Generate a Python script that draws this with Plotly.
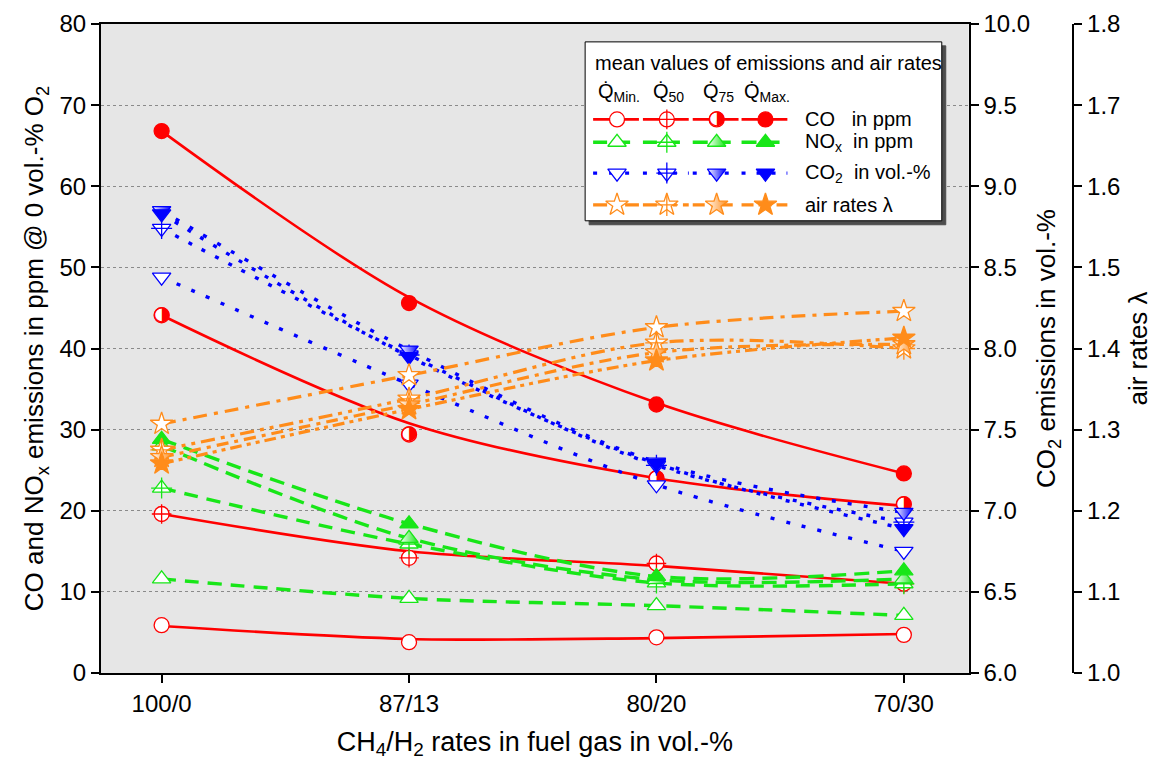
import plotly.graph_objects as go

# ---------------- data ----------------
categories = ["100/0", "87/13", "80/20", "70/30"]
load_labels = ["Min.", "50", "75", "Max."]

# CO in ppm (left axis): measured mean values
co_min = [5.9, 3.8, 4.4, 4.7]
co_50 = [19.6, 14.2, 13.5, 11.0]
co_75 = [44.1, 29.4, 24.0, 20.8]
co_max = [66.8, 45.6, 33.1, 24.6]
# CO trend curves
co_min_fit = [5.8, 4.2, 4.3, 4.8]
co_50_fit = [19.6, 15.0, 13.2, 11.0]
co_75_fit = [44.1, 30.8, 24.0, 20.6]
co_max_fit = [66.8, 46.3, 33.3, 24.6]

# NOx in ppm (left axis)
nox_min = [11.6, 9.2, 8.3, 7.1]
nox_50 = [22.8, 15.9, 11.1, 11.0]
nox_75 = [28.0, 16.6, 11.5, 11.6]
nox_max = [28.8, 18.4, 11.9, 12.6]

# CO2 in vol.-% (first right axis)
co2_min = [8.44, 7.78, 7.16, 6.75]
co2_50 = [8.74, 7.96, 7.28, 6.93]
co2_75 = [8.85, 7.99, 7.30, 6.99]
co2_max = [8.83, 7.95, 7.29, 6.89]

# air rates lambda (second right axis)
lam_min = [1.307, 1.367, 1.426, 1.446]
lam_50 = [1.275, 1.338, 1.407, 1.400]
lam_75 = [1.266, 1.331, 1.395, 1.405]
lam_max = [1.258, 1.325, 1.385, 1.413]

# ---------------- styling / layout constants ----------------
RED = "#ff0000"
GREEN = "#18e618"
BLUE = "#0000ff"
ORANGE = "#ff8c1a"
FONT = "Liberation Sans, Arial, sans-serif"

W, H = 1157, 763
ML, MR, MT, MB = 101, 10, 20, 90
PLOT_R = 972
LAM_AXIS_X = 1077
XD = (PLOT_R - ML) / (W - ML - MR)
P3 = (LAM_AXIS_X - ML) / (W - ML - MR)

species = [
    dict(label="CO", color=RED, yaxis="y", symbol="circle", size=15,
         marks=[co_min, co_50, co_75, co_max],
         lines=[co_min_fit, co_50_fit, co_75_fit, co_max_fit],
         dashes=["solid"] * 4, width=2.6),
    dict(label="NOx", color=GREEN, yaxis="y", symbol="triangle-up", size=16,
         marks=[nox_min, nox_50, nox_75, nox_max],
         lines=[nox_min, nox_50, nox_75, nox_max],
         dashes=["14px,9px", "14px,9px", "15px,8px", "15px,8px"], width=3.4),
    dict(label="CO2", color=BLUE, yaxis="y2", symbol="triangle-down", size=16,
         marks=[co2_min, co2_50, co2_75, co2_max],
         lines=[co2_min, co2_50, co2_75, co2_max],
         dashes=["4px,12px", "4px,11px", "4px,12px", "4px,11px"], width=3.4),
    dict(label="lambda", color=ORANGE, yaxis="y3", symbol="star", size=17,
         marks=[lam_min, lam_50, lam_75, lam_max],
         lines=[lam_min, lam_50, lam_75, lam_max],
         dashes=["14px,7px,4px,7px", "14px,6px,4px,6px,4px,6px",
                 "12px,6px,4px,6px", "12px,5px,4px,5px,4px,5px"], width=3.2),
]

fig = go.Figure()


def add_markers(x, y, xaxis, yaxis, sp, k):
    c = sp["color"]
    base = dict(symbol=sp["symbol"], size=sp["size"], line=dict(color=c, width=1.3))
    if k in (0, 1):
        base["color"] = "white"
    elif k == 2:
        base["color"] = "white"
        if sp["symbol"] != "circle":
            base["gradient"] = dict(type="horizontal", color=c)
    else:
        base["color"] = c
    fig.add_trace(go.Scatter(x=x, y=y, xaxis=xaxis, yaxis=yaxis, mode="markers",
                             marker=base, hoverinfo="skip", cliponaxis=False))
    if k == 1:
        # crosshair inside the open symbol
        fig.add_trace(go.Scatter(x=x, y=y, xaxis=xaxis, yaxis=yaxis, mode="markers",
                                 marker=dict(symbol="cross-thin-open", size=sp["size"] - 1,
                                             color=c, line=dict(color=c, width=1.3)),
                                 hoverinfo="skip", cliponaxis=False))
    if k == 2 and sp["symbol"] == "circle":
        # circle with right half filled
        fig.add_trace(go.Scatter(x=x, y=y, xaxis=xaxis, yaxis=yaxis, mode="text",
                                 text=["\u25d1"] * len(x), textposition="middle center",
                                 textfont=dict(family="DejaVu Sans", size=20, color=c),
                                 hoverinfo="skip", cliponaxis=False))


# data traces
for sp in species:
    for k in range(4):
        fig.add_trace(go.Scatter(
            x=categories, y=sp["lines"][k], yaxis=sp["yaxis"], mode="lines",
            line=dict(color=sp["color"], width=sp["width"], dash=sp["dashes"][k],
                      shape="spline", smoothing=0.9),
            hoverinfo="skip"))
    for k in range(4):
        add_markers(categories, sp["marks"][k], "x", sp["yaxis"], sp, k)

# ---------------- legend box (drawn in pixel coordinates on hidden overlay axes) ----------------
BX0, BX1, BY0, BY1 = 587, 945, 38, 218
SH = 4
fig.add_trace(go.Scatter(x=[BX0 + SH, BX1 + SH, BX1 + SH, BX0 + SH, BX0 + SH],
                         y=[BY0 + SH, BY0 + SH, BY1 + SH, BY1 + SH, BY0 + SH],
                         xaxis="x2", yaxis="y4", mode="lines", fill="toself",
                         fillcolor="#4d4d4d", line=dict(color="#4d4d4d", width=1),
                         hoverinfo="skip"))
fig.add_trace(go.Scatter(x=[BX0, BX1, BX1, BX0, BX0], y=[BY0, BY0, BY1, BY1, BY0],
                         xaxis="x2", yaxis="y4", mode="lines", fill="toself",
                         fillcolor="white", line=dict(color="black", width=1),
                         hoverinfo="skip"))

col_x = [619, 669, 719, 768]
row_y = [116, 139, 170, 202]
for r, sp in enumerate(species):
    for k, cx in enumerate(col_x):
        fig.add_trace(go.Scatter(x=[cx - 24, cx + 22], y=[row_y[r], row_y[r]],
                                 xaxis="x2", yaxis="y4", mode="lines",
                                 line=dict(color=sp["color"], width=sp["width"],
                                           dash=sp["dashes"][k]),
                                 hoverinfo="skip"))
        add_markers([cx], [row_y[r]], "x2", "y4", sp, k)

annotations = []
annotations.append(dict(text="mean values of emissions and air rates", x=595, y=59,
                        xref="x2", yref="y4", xanchor="left", yanchor="middle",
                        showarrow=False, font=dict(size=20, family=FONT)))
for k, cx in enumerate(col_x):
    annotations.append(dict(text="Q\u0307<sub>" + load_labels[k] + "</sub>", x=cx + 2, y=89,
                            xref="x2", yref="y4", xanchor="center", yanchor="middle",
                            showarrow=False, font=dict(size=20, family=FONT)))
row_labels = ["CO   in ppm", "NO<sub>x</sub>  in ppm", "CO<sub>2</sub>  in vol.-%",
              "air rates \u03bb"]
for r, t in enumerate(row_labels):
    annotations.append(dict(text=t, x=806, y=row_y[r], xref="x2", yref="y4",
                            xanchor="left", yanchor="middle", showarrow=False,
                            font=dict(size=20, family=FONT)))

axis_common = dict(showline=True, linewidth=2, linecolor="black", ticks="outside",
                   ticklen=8, tickwidth=2, tickcolor="black", zeroline=False,
                   tickfont=dict(size=24, family=FONT))

fig.update_layout(
    width=W, height=H,
    margin=dict(l=ML, r=MR, t=MT, b=MB),
    paper_bgcolor="white", plot_bgcolor="#e6e6e6",
    showlegend=False,
    font=dict(family=FONT, size=24, color="black"),
    xaxis=dict(domain=[0, XD], type="category", range=[-0.245, 3.262], mirror=True,
               showgrid=False,
               title=dict(text="CH<sub>4</sub>/H<sub>2</sub> rates in fuel gas in vol.-%",
                          font=dict(size=27), standoff=16),
               **axis_common),
    yaxis=dict(range=[0, 80], dtick=10, showgrid=True, gridcolor="#8a8a8a",
               griddash="dot", gridwidth=1,
               title=dict(text="CO and NO<sub>x</sub> emissions in ppm @ 0 vol.-% O<sub>2</sub>",
                          font=dict(size=26), standoff=8),
               **axis_common),
    yaxis2=dict(overlaying="y", side="right", anchor="x", range=[6, 10], dtick=0.5,
                tickformat=".1f", showgrid=False,
                title=dict(text="CO<sub>2</sub> emissions in vol.-%", font=dict(size=26),
                           standoff=8),
                **axis_common),
    yaxis3=dict(overlaying="y", side="right", anchor="free", position=P3,
                range=[1.0, 1.8], dtick=0.1, tickformat=".1f", showgrid=False,
                title=dict(text="air rates \u03bb", font=dict(size=26), standoff=8),
                **axis_common),
    xaxis2=dict(overlaying="x", range=[ML, PLOT_R], visible=False, fixedrange=True),
    yaxis4=dict(overlaying="y", range=[H - MB, MT], visible=False, fixedrange=True),
    annotations=annotations,
)

fig.write_html("out.html")
